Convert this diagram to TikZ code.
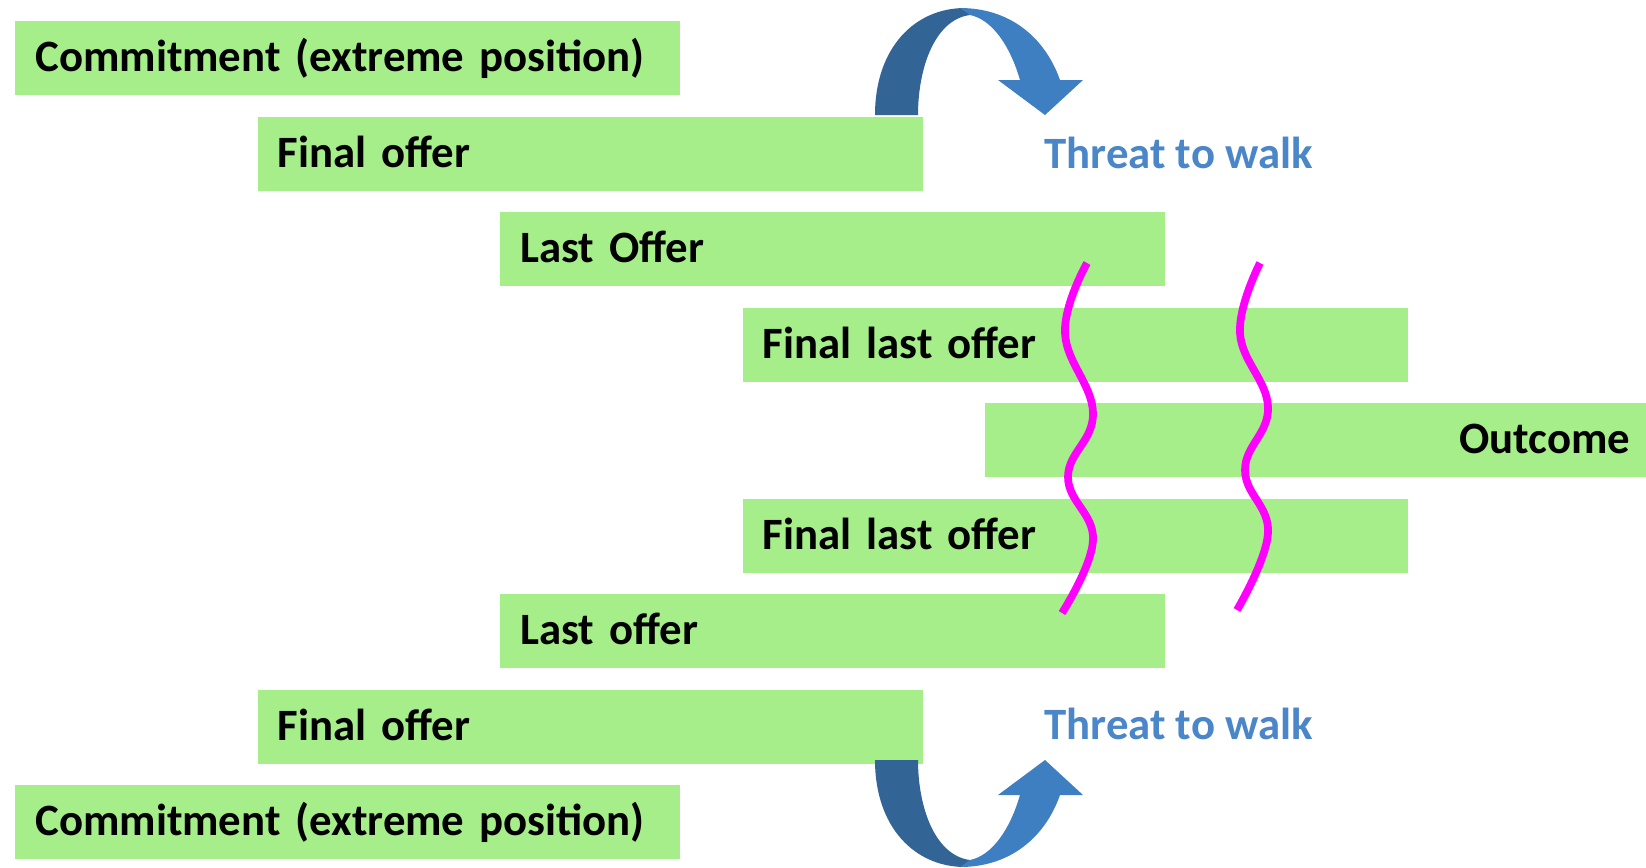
\documentclass[tikz,border=0pt]{standalone}
\usepackage{fontspec}
\setmainfont{Carlito}
\usepackage{tikz}
\usetikzlibrary{positioning,calc}

\definecolor{bargreen}{RGB}{166,238,138}
\definecolor{arrowdark}{RGB}{50,100,150}
\definecolor{arrowlight}{RGB}{62,127,193}
\definecolor{threatblue}{RGB}{74,134,200}
\definecolor{wavepink}{RGB}{255,0,255}

\tikzset{
  bar/.style={fill=bargreen,anchor=north west,inner sep=0pt,inner xsep=0.4cm,
    minimum height=1.48cm,text width=12.5cm,align=#1,
    text height=0.68cm,text depth=0.14cm,
    font=\fontsize{25.5}{30}\selectfont\bfseries},
  bar/.default=left,
  threat/.style={anchor=west,inner sep=0pt,text=threatblue,
    font=\fontsize{25.5}{30}\selectfont\bfseries},
  wave/.style={draw=wavepink,line width=4.4pt}
}

\begin{document}
\begin{tikzpicture}[x=0.02cm,y=-0.02cm]
  \useasboundingbox (0,0) rectangle (1646,867);

  % staircase of offers
  \foreach \i/\k/\txt in {0/0/Commitment (extreme position),1/1/Final offer,2/2/Last Offer,
      3/3/Final last offer,5/3/Final last offer,6/2/Last offer,7/1/Final offer,
      8/0/Commitment (extreme position)} {
    \node[bar] (offer\i) at (15+242.5*\k,21+95.5*\i) {\txt};
  }
  \node[bar=right] (offer4) at (985,403) {Outcome};

  % threats
  \node[threat] (threattop) at (1044,152.5) {Threat to walk};
  \node[threat] (threatbot) at (1044,723.5) {Threat to walk};

  % curved arrows, mirrored about the middle
  \foreach \s in {1,-1} {
    \begin{scope}[shift={(0,437.5)},yscale=\s]
      \fill[arrowdark] (875,-322.5) .. controls (875,-390) and (915,-429.5) .. (965,-429.5)
        -- (970,-422.5) .. controls (935,-418) and (918,-370) .. (918,-322.5) -- cycle;
      \fill[arrowlight] (960,-429.5) .. controls (1010,-429.5) and (1045,-400) .. (1060,-357.5)
        -- (1083,-357.5) -- (1045,-322.5) -- (998,-357.5) -- (1020,-357.5)
        .. controls (1010,-392) and (992,-418) .. (970,-422.5) -- cycle;
    \end{scope}
  }

  % breaks
  \draw[wave] plot[smooth,tension=0.7] coordinates
    {(1087,263) (1065,333) (1093,413) (1068,477) (1093,540) (1062,613)};
  \draw[wave] plot[smooth,tension=0.7] coordinates
    {(1260,263) (1240,333) (1268,407) (1245,470) (1268,533) (1237,610)};

\end{tikzpicture}
\end{document}
